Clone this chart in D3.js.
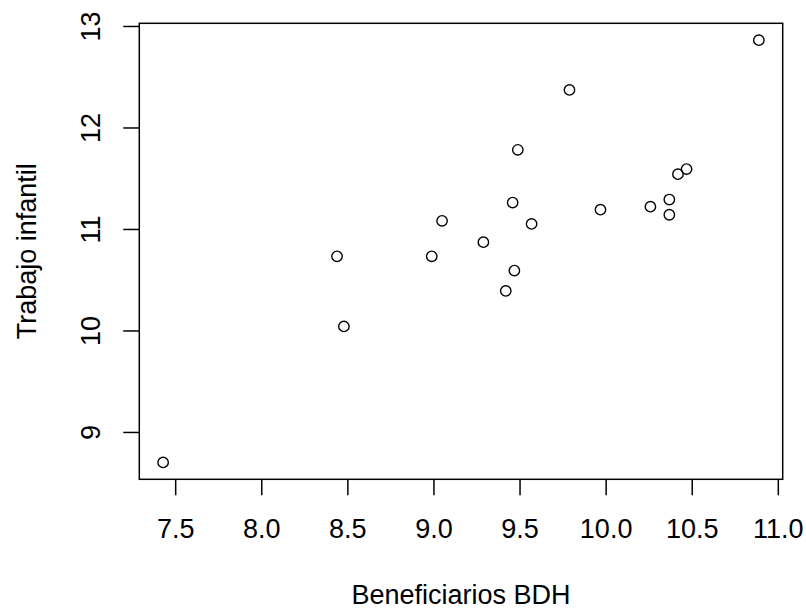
<!doctype html>
<html>
	<head>
		<meta charset="utf-8">
		<script type="text/javascript" src="https://cdn.jsdelivr.net/npm/d3@7/dist/d3.min.js"></script>
		<style>
			body { margin: 0; background: #fff; }
			text { font-family: "Liberation Sans", Arial, sans-serif; fill: #000; }
		</style>
	</head>
	<body>
		<div id="container"></div>
		<script>
			// values
			var beneficiarios = [7.43, 10.89, 9.79, 9.49, 10.47, 10.42, 10.37, 10.37, 10.26, 9.97,
				9.46, 9.57, 9.05, 9.29, 8.44, 8.99, 8.48, 9.47, 9.42];
			var trabajo = [8.70, 12.86, 12.37, 11.78, 11.59, 11.54, 11.29, 11.14, 11.22, 11.19,
				11.26, 11.05, 11.08, 10.87, 10.73, 10.73, 10.04, 10.59, 10.39];
			var xTicks = [7.5, 8.0, 8.5, 9.0, 9.5, 10.0, 10.5, 11.0];
			var yTicks = [9, 10, 11, 12, 13];
			var xLabel = "Beneficiarios BDH";
			var yLabel = "Trabajo infantil";

			var W = 806, H = 610;
			var plotLeft = 139.3, plotRight = 782.7, plotTop = 23.3, plotBottom = 479.3;

			// R style: 4% padding round the data range
			function pad(arr) {
				var lo = d3.min(arr), hi = d3.max(arr), d = (hi - lo) * 0.04;
				return [lo - d, hi + d];
			}

			var x = d3.scaleLinear().domain(pad(beneficiarios)).range([plotLeft, plotRight]);
			var y = d3.scaleLinear().domain(pad(trabajo)).range([plotBottom, plotTop]);

			var svg = d3.select('#container')
				.append("svg")
				.attr("width", W)
				.attr("height", H);

			// x axis ticks
			var xAxis = d3.axisBottom(x).tickValues(xTicks).tickSize(16).tickFormat(d3.format(".1f"));
			var gx = svg.append("g")
				.attr("transform", "translate(0," + plotBottom + ")")
				.call(xAxis);
			gx.select(".domain").remove();
			gx.selectAll(".tick line").attr("stroke", "#000").attr("stroke-width", 1.5);
			gx.selectAll(".tick text")
				.attr("y", 58.7)
				.attr("dy", null)
				.attr("font-size", 27)
				.attr("fill", "#000");

			// y axis ticks, labels turned like R's las=0
			var yAxis = d3.axisLeft(y).tickValues(yTicks).tickSize(16).tickFormat(d3.format("d"));
			var gy = svg.append("g")
				.attr("transform", "translate(" + plotLeft + ",0)")
				.call(yAxis);
			gy.select(".domain").remove();
			gy.selectAll(".tick line").attr("stroke", "#000").attr("stroke-width", 1.5);
			gy.selectAll(".tick text")
				.attr("x", null)
				.attr("dy", null)
				.attr("transform", "translate(" + (100 - plotLeft) + ",0) rotate(-90)")
				.attr("text-anchor", "middle")
				.attr("font-size", 27)
				.attr("fill", "#000");

			// box
			svg.append("rect")
				.attr("x", plotLeft)
				.attr("y", plotTop)
				.attr("width", plotRight - plotLeft)
				.attr("height", plotBottom - plotTop)
				.attr("fill", "none")
				.attr("stroke", "#000")
				.attr("stroke-width", 1.5);

			// points
			svg.selectAll("circle")
				.data(d3.range(beneficiarios.length))
				.enter()
				.append("circle")
				.attr("cx", function(i){ return x(beneficiarios[i]); })
				.attr("cy", function(i){ return y(trabajo[i]); })
				.attr("r", 5.2)
				.attr("fill", "none")
				.attr("stroke", "#000")
				.attr("stroke-width", 1.4);

			// titles
			svg.append("text")
				.attr("x", (plotLeft + plotRight) / 2)
				.attr("y", 604)
				.attr("text-anchor", "middle")
				.attr("font-size", 27)
				.text(xLabel);

			svg.append("text")
				.attr("transform", "translate(36," + ((plotTop + plotBottom) / 2) + ") rotate(-90)")
				.attr("text-anchor", "middle")
				.attr("font-size", 27)
				.text(yLabel);
		</script>
	</body>
</html>
